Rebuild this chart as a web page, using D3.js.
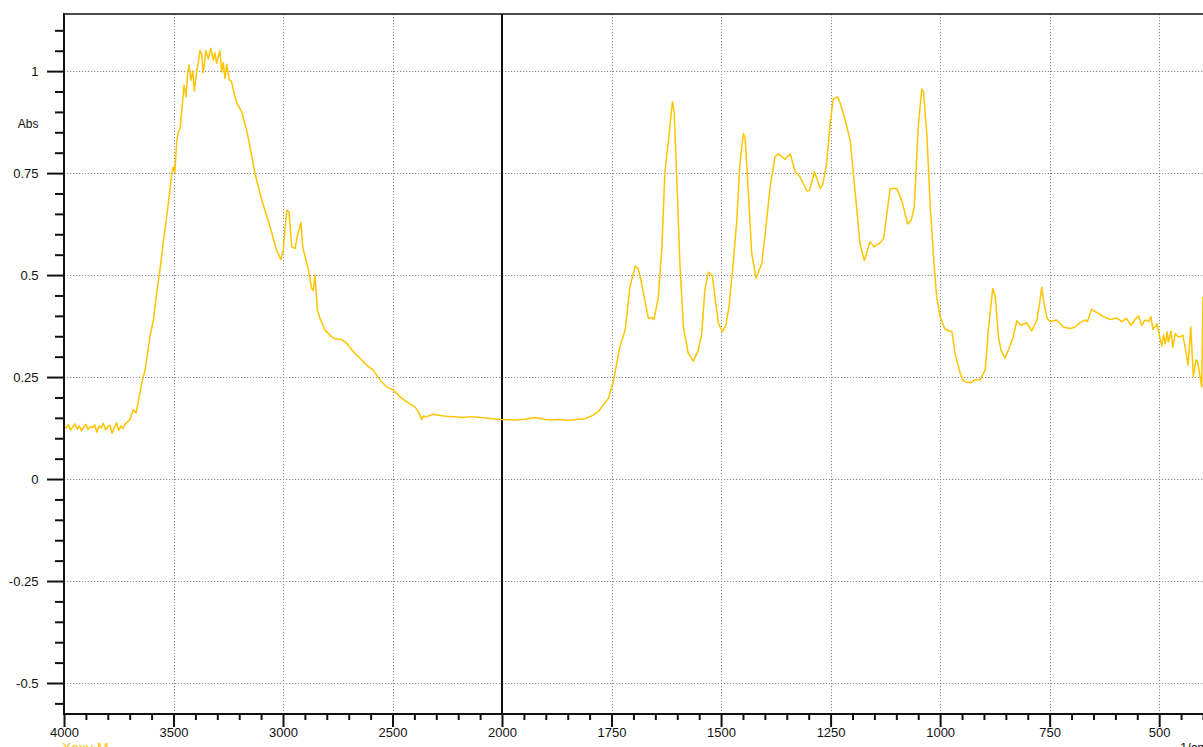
<!DOCTYPE html>
<html>
<head>
<meta charset="utf-8">
<script src="https://cdn.jsdelivr.net/npm/d3@7"></script>
<style>
  html, body { margin: 0; padding: 0; background: #fff; }
  svg { display: block; }
  text { font-family: "Liberation Sans", Arial, sans-serif; }
</style>
</head>
<body>
<svg id="chart" width="1203" height="747"></svg>
<script>
// ---- data ----
const wavenumber = [
  4000,3990,3980,3970,3960,3950,3940,3930,3920,3910,3900,3890,3880,3870,3860,3850,3840,3830,3820,3810,3800,3790,3780,3770,3760,3750,3740,3730,
  3721,3699,3684,3671,3661,3645,3630,3607,3592,3577,3562,3547,3531,3516,3508,3501,3494,3485,3478,3470,3461,3452,3443,3436,3429,3420,3412,3405,
  3394,3387,3379,3371,3364,3352,3341,3330,3318,3311,3303,3288,3280,3273,3265,3257,3245,3235,3227,3211,3189,3166,3151,3128,3097,3059,3029,3010,
  2999,2983,2973,2960,2945,2935,2918,2910,2895,2884,2869,2862,2854,2843,2831,2808,2778,2760,2732,2709,2679,2648,2618,2588,2557,2527,2496,2466,
  2435,2397,2378,2367,2359,2344,2314,2275,2237,2177,2146,2085,2009,1974,1951,1925,1906,1890,1870,1850,1830,1810,1795,1780,1770,1757,1746,1731,
  1719,1708,1696,1689,1683,1677,1666,1658,1653,1643,1635,1628,1620,1611,1607,1601,1594,1586,1575,1563,1552,1544,1537,1529,1520,1514,1506,1497,
  1489,1482,1472,1464,1457,1449,1445,1438,1430,1420,1407,1400,1388,1377,1369,1354,1342,1331,1320,1304,1298,1287,1280,1274,1268,1259,1251,1244,
  1234,1228,1217,1205,1198,1190,1183,1173,1160,1151,1137,1129,1114,1099,1087,1074,1066,1059,1050,1042,1038,1030,1023,1015,1008,1000,989,973,
  966,954,947,931,920,909,897,890,880,874,867,861,852,840,833,825,816,802,791,779,773,768,763,756,749,734,718,703,692,680,669,664,654,642,627,
  612,597,585,575,564,555,547,540,532,524,519,514,505,499,494,490,486,482,479,473,469,463,457,452,446,441,434,428,422,416,412,408,403,400
];
const absorbance = [
  0.130,0.125,0.133,0.120,0.128,0.135,0.122,0.130,0.118,0.127,0.134,0.121,0.129,0.126,0.133,0.115,0.130,0.125,0.137,0.120,0.128,0.132,0.112,0.126,0.138,0.119,0.130,0.124,
  0.135,0.145,0.170,0.162,0.190,0.235,0.267,0.350,0.390,0.455,0.512,0.578,0.643,0.710,0.748,0.765,0.752,0.830,0.850,0.860,0.910,0.966,0.937,0.990,1.015,0.978,1.000,0.951,
  1.000,1.020,1.051,1.040,0.996,1.050,1.030,1.056,1.027,1.045,1.019,1.050,0.998,1.021,0.982,1.017,0.978,0.975,0.953,0.922,0.900,0.855,0.815,0.749,0.684,0.618,0.561,0.538,
  0.561,0.659,0.655,0.569,0.565,0.594,0.629,0.569,0.537,0.512,0.467,0.463,0.500,0.414,0.394,0.365,0.349,0.343,0.342,0.333,0.312,0.296,0.279,0.267,0.243,0.226,0.218,0.202,
  0.189,0.177,0.161,0.146,0.154,0.153,0.159,0.155,0.153,0.151,0.153,0.150,0.146,0.145,0.146,0.151,0.147,0.145,0.146,0.144,0.146,0.148,0.155,0.165,0.180,0.198,0.239,0.324,
  0.365,0.471,0.522,0.516,0.488,0.455,0.394,0.396,0.391,0.447,0.569,0.757,0.831,0.925,0.900,0.733,0.529,0.373,0.308,0.289,0.316,0.357,0.463,0.507,0.498,0.447,0.382,0.361,
  0.377,0.422,0.533,0.635,0.774,0.847,0.835,0.708,0.553,0.492,0.529,0.594,0.716,0.790,0.797,0.784,0.797,0.753,0.741,0.706,0.707,0.753,0.733,0.712,0.721,0.774,0.872,0.931,
  0.937,0.921,0.882,0.827,0.749,0.659,0.578,0.535,0.582,0.569,0.579,0.590,0.712,0.712,0.680,0.625,0.635,0.667,0.863,0.956,0.949,0.839,0.676,0.545,0.447,0.398,0.367,0.361,
  0.308,0.259,0.240,0.236,0.243,0.244,0.267,0.365,0.467,0.447,0.349,0.316,0.296,0.328,0.349,0.388,0.377,0.383,0.363,0.390,0.431,0.470,0.431,0.394,0.386,0.390,0.372,0.369,0.372,0.384,0.390,0.386,0.416,0.408,0.398,
  0.391,0.395,0.386,0.394,0.377,0.391,0.400,0.377,0.390,0.386,0.398,0.367,0.380,0.349,0.326,0.353,0.331,0.361,0.336,0.363,0.323,0.357,0.349,0.349,0.353,0.324,0.279,0.373,0.251,0.292,0.288,0.259,0.226,0.447
];
const xMajorTicks = [4000, 3500, 3000, 2500, 2000, 1750, 1500, 1250, 1000, 750, 500];
const xMinorTicks = [3900,3800,3700,3600,3400,3300,3200,3100,2900,2800,2700,2600,2400,2300,2200,2100,
                     1950,1900,1850,1800,1700,1650,1600,1550,1450,1400,1350,1300,1200,1150,1100,1050,950,900,850,800,700,650,600,550,450,400];
const yMajorTicks = [-0.5, -0.25, 0, 0.25, 0.5, 0.75, 1];
const yMinorTicks = [-0.55,-0.45,-0.4,-0.35,-0.3,-0.2,-0.15,-0.1,-0.05,0.05,0.1,0.15,0.2,0.3,0.35,0.4,0.45,0.55,0.6,0.65,0.7,0.8,0.85,0.9,0.95,1.05,1.1];
const xDomain = [4000, 2000, 400];
const yDomain = [-0.576, 1.14];
const yTitle = "Abs";
const xTitle = "1/cm";
const seriesName = "Xaxy M";

// ---- layout ----
const L = 64, R = 1203, T = 14, B = 714;
const svg = d3.select("#chart");
const x = d3.scaleLinear().domain(xDomain).range([L, 502, R]);
const y = d3.scaleLinear().domain(yDomain).range([B, T]);
const plainFmt = d => String(d);

svg.append("defs").append("clipPath").attr("id", "plotclip")
  .append("rect").attr("x", L).attr("y", T).attr("width", R - L).attr("height", B - T);

// grid
const grid = svg.append("g").attr("stroke", "#8a8a8a").attr("stroke-width", 1).attr("stroke-dasharray", "1.2,1.8");
grid.selectAll("line.gy").data(yMajorTicks).join("line")
  .attr("x1", L).attr("x2", R).attr("y1", d => Math.round(y(d)) + 0.5).attr("y2", d => Math.round(y(d)) + 0.5);
grid.selectAll("line.gx").data(xMajorTicks.filter(d => d !== 4000 && d !== 2000)).join("line")
  .attr("y1", T).attr("y2", B).attr("x1", d => Math.round(x(d)) + 0.5).attr("x2", d => Math.round(x(d)) + 0.5);

// break line at 2000
svg.append("line").attr("x1", x(2000)).attr("x2", x(2000)).attr("y1", T).attr("y2", B)
  .attr("stroke", "#111").attr("stroke-width", 2);

// spectrum
const pts = wavenumber.map((w, i) => [w, absorbance[i]]);
svg.append("path").datum(pts)
  .attr("clip-path", "url(#plotclip)")
  .attr("fill", "none").attr("stroke", "#ffc400").attr("stroke-width", 1.5)
  .attr("stroke-linejoin", "round")
  .attr("d", d3.line().x(d => x(d[0])).y(d => y(d[1])));

// axes
const fontSize = 13;
const yAxis = svg.append("g").attr("transform", `translate(${L},0)`)
  .call(d3.axisLeft(y).tickValues(yMajorTicks).tickSize(17).tickPadding(9).tickFormat(plainFmt));
const yMinor = svg.append("g").attr("transform", `translate(${L},0)`)
  .call(d3.axisLeft(y).tickValues(yMinorTicks).tickSize(9).tickFormat(""));
const xAxis = svg.append("g").attr("transform", `translate(0,${B})`)
  .call(d3.axisBottom(x).tickValues(xMajorTicks).tickSize(13).tickPadding(5).tickFormat(plainFmt));
const xMinor = svg.append("g").attr("transform", `translate(0,${B})`)
  .call(d3.axisBottom(x).tickValues(xMinorTicks).tickSize(6).tickFormat(""));

[yAxis, yMinor, xAxis, xMinor].forEach(g => {
  g.select(".domain").remove();
  g.selectAll(".tick line").attr("stroke", "#111").attr("stroke-width", 2);
  g.selectAll("text").attr("fill", "#111").attr("font-size", fontSize)
    .attr("font-family", "'Liberation Sans', Arial, sans-serif");
});
xAxis.selectAll("text").attr("y", 23).attr("dy", 0);
yAxis.selectAll("text").attr("x", -25.5);

// frame lines
svg.append("line").attr("x1", L).attr("x2", L).attr("y1", T - 1).attr("y2", B + 1).attr("stroke", "#111").attr("stroke-width", 2);
svg.append("line").attr("x1", L).attr("x2", R).attr("y1", T).attr("y2", T).attr("stroke", "#111").attr("stroke-width", 1.5);
svg.append("line").attr("x1", L).attr("x2", R).attr("y1", B).attr("y2", B).attr("stroke", "#111").attr("stroke-width", 2);

// titles (the reference shows the x title and series name cut off at the bottom edge)
svg.append("text").attr("x", 38.5).attr("y", 128).attr("text-anchor", "end")
  .attr("font-size", 12).attr("fill", "#111").text(yTitle);
svg.append("text").attr("x", 1180).attr("y", 752).attr("font-size", 13).attr("fill", "#111").text(xTitle);
svg.append("text").attr("x", 62).attr("y", 753).attr("font-size", 14).attr("fill", "#ffc400").text(seriesName);
</script>
</body>
</html>
